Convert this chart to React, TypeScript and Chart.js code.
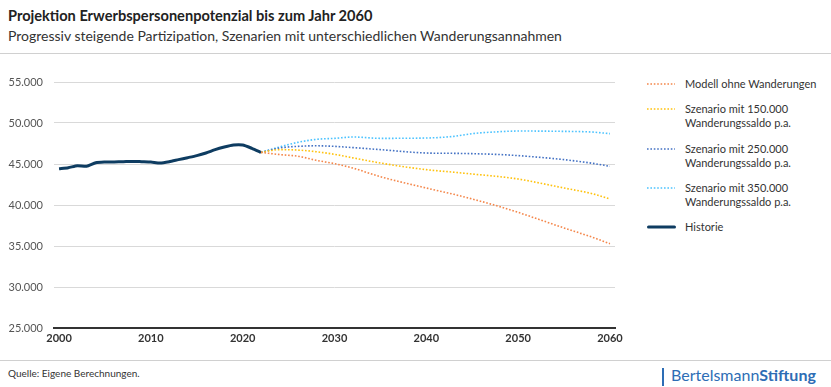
import React, { useEffect, useRef } from "react";
import { Chart, registerables } from "chart.js";

Chart.register(...registerables);

const histYears = [2000, 2001, 2002, 2003, 2004, 2005, 2006, 2007, 2008, 2009, 2010, 2011, 2012, 2013, 2014, 2015, 2016, 2017, 2018, 2019, 2020, 2021, 2022];
const histValues = [44430, 44550, 44800, 44720, 45160, 45240, 45250, 45280, 45320, 45280, 45240, 45120, 45280, 45530, 45770, 46020, 46340, 46750, 47070, 47320, 47320, 46910, 46420];

const projYears = [2022, 2024, 2026, 2028, 2030, 2032, 2035, 2040, 2043, 2045, 2048, 2050, 2055, 2058, 2060];
const ohneWanderung = [46420, 46150, 45950, 45450, 45040, 44500, 43450, 42070, 41300, 40730, 39800, 39100, 37200, 36100, 35280];
const szenario150 = [46420, 46750, 46700, 46500, 46180, 45750, 45120, 44310, 44000, 43780, 43450, 43170, 42070, 41400, 40730];
const szenario250 = [46420, 46950, 47150, 47220, 47150, 47000, 46750, 46340, 46300, 46260, 46150, 46020, 45530, 45100, 44720];
const szenario350 = [46420, 47070, 47640, 48000, 48130, 48290, 48130, 48170, 48370, 48700, 48940, 49020, 48980, 48900, 48700];

const xTicks = [2000, 2010, 2020, 2030, 2040, 2050, 2060];

const seriesLabels = ["Modell ohne Wanderungen", "Szenario mit 150.000 Wanderungssaldo p.a.", "Szenario mit 250.000 Wanderungssaldo p.a.", "Szenario mit 350.000 Wanderungssaldo p.a.", "Historie"];
const colors = ["#f4874b", "#ffc20e", "#4472c4", "#4cc3ff", "#0e3c61"];

const FONT = "Lato, 'Open Sans', sans-serif";

function pts(xs: number[], ys: number[]) {
  return xs.map((x, i) => ({ x, y: ys[i] }));
}

export default function App() {
  const ref = useRef<HTMLCanvasElement | null>(null);

  useEffect(() => {
    if (!ref.current) return;
    const proj = [ohneWanderung, szenario150, szenario250, szenario350];
    const datasets: any[] = proj.map((vals, i) => ({
      label: seriesLabels[i],
      data: pts(projYears, vals),
      borderColor: colors[i],
      borderWidth: 1.6,
      borderDash: [1.6, 1.8],
      pointRadius: 0,
      tension: 0.4,
      cubicInterpolationMode: "monotone",
      fill: false,
    }));
    datasets.push({
      label: seriesLabels[4],
      data: pts(histYears, histValues),
      borderColor: colors[4],
      borderWidth: 3,
      pointRadius: 0,
      tension: 0.2,
      fill: false,
    });
    const chart = new Chart(ref.current, {
      type: "line",
      data: { datasets },
      options: {
        animation: false,
        responsive: false,
        maintainAspectRatio: false,
        layout: { padding: { top: 22, right: 15, left: 0, bottom: 0 } },
        plugins: { legend: { display: false }, tooltip: { enabled: false } },
        scales: {
          x: {
            type: "linear",
            min: 1999.45,
            max: 2060.55,
            afterBuildTicks: (s: any) => {
              s.ticks = xTicks.map((v) => ({ value: v }));
            },
            afterFit: (s: any) => {
              s.height = 22;
            },
            grid: { display: false, drawTicks: false },
            border: { display: true, color: "#333333", width: 2 },
            ticks: {
              color: "#333333",
              font: { family: FONT, size: 11, weight: "bold" },
              padding: 4,
              maxRotation: 0,
              callback: (v: any) => String(v),
            },
          },
          y: {
            min: 25000,
            max: 55000,
            afterFit: (s: any) => {
              s.width = 54;
            },
            grid: { color: "#d9d9d9", lineWidth: 1, drawTicks: false },
            border: { display: false },
            ticks: {
              stepSize: 5000,
              color: "#555555",
              padding: 11,
              font: { family: FONT, size: 11 },
              callback: (v: any) => Number(v).toLocaleString("de-DE"),
            },
          },
        },
      },
    });
    return () => chart.destroy();
  }, []);

  const legendRows = [
    { i: 0, lines: ["Modell ohne Wanderungen"], top: 77 },
    { i: 1, lines: ["Szenario mit 150.000", "Wanderungssaldo p.a."], top: 102 },
    { i: 2, lines: ["Szenario mit 250.000", "Wanderungssaldo p.a."], top: 142 },
    { i: 3, lines: ["Szenario mit 350.000", "Wanderungssaldo p.a."], top: 181 },
    { i: 4, lines: ["Historie"], top: 220 },
  ];

  return (
    <div style={{ position: "fixed", left: 0, top: 0, width: 831, height: 387, background: "#fff", fontFamily: FONT, color: "#222", overflow: "hidden" }}>
      <div style={{ position: "absolute", left: 8, top: 7, fontSize: 14.6, fontWeight: 700, color: "#222", whiteSpace: "nowrap" }}>
        Projektion Erwerbspersonenpotenzial bis zum Jahr 2060
      </div>
      <div style={{ position: "absolute", left: 8, top: 27, fontSize: 14, color: "#333", whiteSpace: "nowrap" }}>
        Progressiv steigende Partizipation, Szenarien mit unterschiedlichen Wanderungsannahmen
      </div>
      <div style={{ position: "absolute", left: 0, top: 53, width: 831, height: 1, background: "#d0d0d0" }} />
      <canvas ref={ref} width={630} height={290} style={{ position: "absolute", left: 0, top: 60, width: 630, height: 290 }} />
      {legendRows.map((r) => (
        <div key={r.i} style={{ position: "absolute", left: 647, top: r.top }}>
          <svg width={30} height={12} style={{ position: "absolute", left: 0, top: 1 }}>
            {r.i === 4 ? (
              <line x1={1.5} y1={6} x2={27.5} y2={6} stroke={colors[4]} strokeWidth={3} strokeLinecap="round" />
            ) : (
              <line x1={0} y1={6} x2={28} y2={6} stroke={colors[r.i]} strokeWidth={1.6} strokeDasharray="1.6 1.8" />
            )}
          </svg>
          <div style={{ position: "absolute", left: 38, top: 0, fontSize: 11, lineHeight: "14px", color: "#333", whiteSpace: "nowrap" }}>
            {r.lines.map((l, k) => (
              <div key={k}>{l}</div>
            ))}
          </div>
        </div>
      ))}
      <div style={{ position: "absolute", left: 0, top: 360, width: 831, height: 1, background: "#d0d0d0" }} />
      <div style={{ position: "absolute", left: 8, top: 367, fontSize: 10, color: "#333", whiteSpace: "nowrap" }}>Quelle: Eigene Berechnungen.</div>
      <div style={{ position: "absolute", left: 662, top: 368, width: 1.5, height: 18, background: "#2d6db5" }} />
      <div style={{ position: "absolute", left: 671, top: 365, fontSize: 16, color: "#2d6db5", whiteSpace: "nowrap" }}>
        Bertelsmann<span style={{ fontWeight: 700 }}>Stiftung</span>
      </div>
    </div>
  );
}
